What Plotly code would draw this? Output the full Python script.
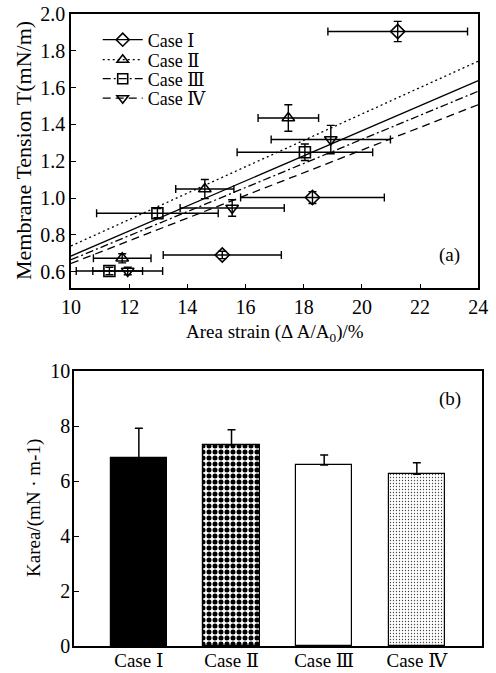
import plotly.graph_objects as go

# ---------------- Panel (a) data ----------------
cases = ["Case Ⅰ", "Case Ⅱ", "Case Ⅲ", "Case Ⅳ"]

strain_I = [21.23, 18.30, 15.20]
tension_I = [1.905, 1.003, 0.691]
strain_err_I = [2.40, 2.47, 2.03]
tension_err_I = [0.055, 0.032, 0.020]

strain_II = [17.47, 14.60, 11.76]
tension_II = [1.435, 1.049, 0.673]
strain_err_II = [1.04, 1.00, 0.99]
tension_err_II = [0.072, 0.052, 0.025]

strain_III = [18.04, 12.97, 11.32]
tension_III = [1.249, 0.918, 0.604]
strain_err_III = [2.33, 2.09, 1.14]
tension_err_III = [0.045, 0.025, 0.020]

strain_IV = [18.93, 15.54, 11.95]
tension_IV = [1.318, 0.946, 0.604]
strain_err_IV = [2.05, 1.79, 1.20]
tension_err_IV = [0.077, 0.045, 0.020]

# linear fits T = slope * strain + intercept
fit_slope = [0.0681, 0.0717, 0.0654, 0.0616]
fit_intercept = [0.004, 0.023, 0.011, 0.029]
fit_range = [10, 24]

# ---------------- Panel (b) data ----------------
bar_labels = ["Case Ⅰ", "Case Ⅱ", "Case Ⅲ", "Case Ⅳ"]
karea = [6.82, 7.31, 6.58, 6.25]
karea_err = [1.10, 0.55, 0.37, 0.41]

FONT = "Liberation Serif, DejaVu Serif, Times New Roman, serif"
W, H = 496, 673

symbols = ["diamond-open", "triangle-up-open", "square-open", "triangle-down-open"]
dashes = ["solid", "2px,3px", "8px,3px,2px,3px", "8px,5px"]
legend_ids = ["legend", "legend2", "legend3", "legend4"]
legend_rows_px = [40, 60, 79, 98.5]

fig = go.Figure()

series = [
    (strain_I, tension_I, strain_err_I, tension_err_I),
    (strain_II, tension_II, strain_err_II, tension_err_II),
    (strain_III, tension_III, strain_err_III, tension_err_III),
    (strain_IV, tension_IV, strain_err_IV, tension_err_IV),
]

for i, (sx, sy, ex, ey) in enumerate(series):
    xs = fit_range
    ys = [fit_slope[i] * v + fit_intercept[i] for v in xs]
    fig.add_trace(go.Scatter(
        x=xs, y=ys, mode="lines", xaxis="x", yaxis="y",
        line=dict(color="black", width=1.3, dash=dashes[i]),
        showlegend=False, hoverinfo="skip"))
    fig.add_trace(go.Scatter(
        x=sx, y=sy, mode="markers", xaxis="x", yaxis="y",
        marker=dict(symbol=symbols[i], size=11, color="black",
                    line=dict(width=1.6, color="black")),
        error_x=dict(type="data", array=ex, color="black", thickness=1.4, width=4),
        error_y=dict(type="data", array=ey, color="black", thickness=1.4, width=4),
        showlegend=False))
    fig.add_trace(go.Scatter(
        x=[None], y=[None], mode="lines+markers", xaxis="x", yaxis="y",
        name=cases[i], legend=legend_ids[i],
        marker=dict(symbol=symbols[i], size=10, color="black",
                    line=dict(width=1.6, color="black")),
        line=dict(color="black", width=1.3, dash=dashes[i])))

# ---------------- bars ----------------
patterns = [
    dict(shape=""),
    dict(shape=".", size=6, solidity=0.55, fgcolor="black", bgcolor="white", fillmode="replace"),
    dict(shape=""),
    dict(shape=".", size=3, solidity=0.15, fgcolor="#444444", bgcolor="white", fillmode="replace"),
]
bar_colors = ["black", "white", "white", "white"]
for i in range(4):
    fig.add_trace(go.Bar(
        x=[i], y=[karea[i]], xaxis="x2", yaxis="y2", width=0.61,
        marker=dict(color=bar_colors[i], pattern=patterns[i],
                    line=dict(color="black", width=1.2)),
        error_y=dict(type="data", array=[karea_err[i]], arrayminus=[0],
                     symmetric=False, color="black", thickness=1.5, width=4),
        showlegend=False))

axis_common = dict(showline=True, linecolor="black", linewidth=1.5, mirror=True,
                   showgrid=False, zeroline=False, ticks="inside", ticklen=5,
                   tickcolor="black", tickwidth=1.2,
                   tickfont=dict(family=FONT, size=20, color="black"),
                   automargin=False)

legend_style = dict(x=0.197, xanchor="left", yanchor="middle",
                    bgcolor="rgba(0,0,0,0)", borderwidth=0,
                    font=dict(family=FONT, size=18, color="black"),
                    itemwidth=40)

fig.update_layout(
    width=W, height=H,
    margin=dict(l=0, r=0, t=0, b=0),
    paper_bgcolor="white", plot_bgcolor="white",
    font=dict(family=FONT, size=18, color="black"),
    bargap=0,
    xaxis=dict(domain=[71 / W, 478.3 / W], range=[10, 24], tickvals=[10, 12, 14, 16, 18, 20, 22, 24],
               anchor="y", **axis_common),
    yaxis=dict(domain=[1 - 288.3 / H, 1 - 14 / H], range=[0.51, 2.0],
               tickvals=[0.6, 0.8, 1.0, 1.2, 1.4, 1.6, 1.8, 2.0], tickformat=".1f",
               anchor="x", **axis_common),
    xaxis2=dict(domain=[74 / W, 481.7 / W], range=[-0.7, 3.7], tickvals=[0, 1, 2, 3],
                ticktext=bar_labels, anchor="y2",
                **{**axis_common, "ticks": "", "ticklabelstandoff": -4,
                   "tickfont": dict(family=FONT, size=19, color="black")}),
    yaxis2=dict(domain=[1 - 646 / H, 1 - 371 / H], range=[0, 10],
                tickvals=[0, 2, 4, 6, 8, 10], anchor="x2",
                **{**axis_common, "ticklabelstandoff": -2}),
    annotations=[
        dict(text="(a)", x=23.0, y=0.69, xref="x", yref="y", showarrow=False,
             font=dict(family=FONT, size=19)),
        dict(text="(b)", x=3.36, y=9.0, xref="x2", yref="y2", showarrow=False,
             font=dict(family=FONT, size=19)),
        dict(text="Membrane Tension T(mN/m)", textangle=-90, x=23 / W, y=1 - 151 / H,
             xanchor="center", yanchor="middle",
             xref="paper", yref="paper", showarrow=False,
             font=dict(family=FONT, size=22)),
        dict(text="Area strain (Δ A/A<sub>0</sub>)/%", x=275 / W, y=1 - 333 / H,
             xanchor="center", yanchor="middle",
             xref="paper", yref="paper", showarrow=False,
             font=dict(family=FONT, size=19)),
        dict(text="Karea/(mN · m-1)", textangle=-90, x=34 / W, y=1 - 508 / H,
             xanchor="center", yanchor="middle",
             xref="paper", yref="paper", showarrow=False,
             font=dict(family=FONT, size=19)),
    ],
)
for lid, row in zip(legend_ids, legend_rows_px):
    fig.update_layout({lid: dict(y=1 - row / H, **legend_style)})

fig.write_html("out.html", config={"displayModeBar": False},
               post_script="document.body.style.margin='0';")
